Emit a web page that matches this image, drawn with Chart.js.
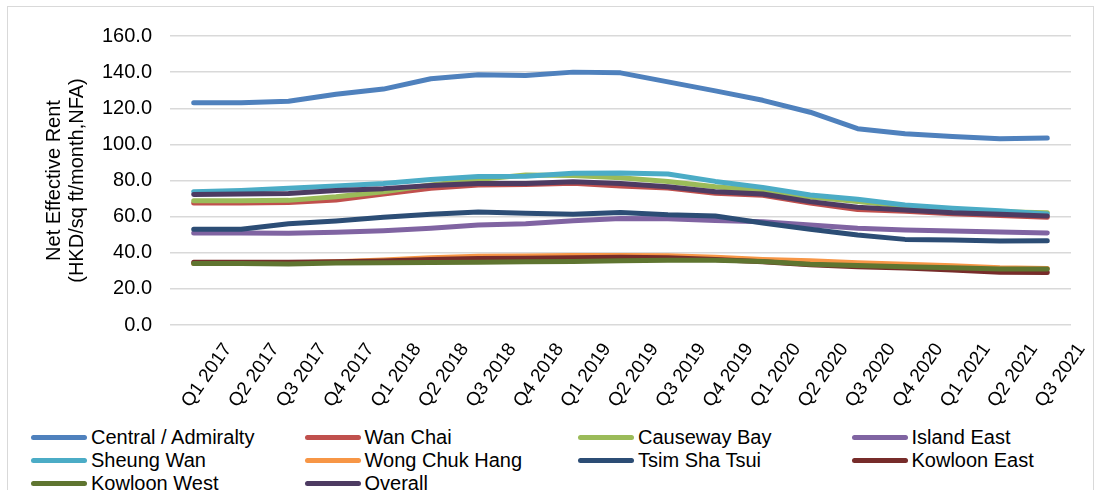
<!DOCTYPE html>
<html lang="en">
<head>
    <meta charset="UTF-8">
    <script src="https://cdn.jsdelivr.net/npm/chart.js@4.4.1/dist/chart.umd.min.js"></script>
    <title>Net Effective Rent</title>
    <style>
        body { margin: 0; background: #fff; font-family: "Liberation Sans", Arial, sans-serif; }
        #frame { position: absolute; left: 7px; top: 6px; width: 1085px; height: 500px; border: 1.5px solid #d9d9d9; border-bottom: none; }
        #chartBox { position: absolute; left: 0; top: 0; width: 1096px; height: 425px; }
        #legend { position: absolute; left: 31px; top: 426px; width: 1092px; }
        .item { position: absolute; display: flex; align-items: center; font-size: 20px; color: #000; white-space: nowrap; }
        .swatch { width: 56px; height: 5px; border-radius: 3px; margin-right: 4px; }
    </style>
</head>
<body>
    <div id="frame"></div>
    <div id="chartBox"><canvas id="chart"></canvas></div>
    <div id="legend"></div>
    <script>
        const categories = ['Q1 2017','Q2 2017','Q3 2017','Q4 2017','Q1 2018','Q2 2018','Q3 2018','Q4 2018',
            'Q1 2019','Q2 2019','Q3 2019','Q4 2019','Q1 2020','Q2 2020','Q3 2020','Q4 2020','Q1 2021','Q2 2021','Q3 2021'];

        const central     = [123.1,123.1,123.9,127.8,130.6,136.3,138.5,138.1,140.0,139.6,134.6,129.6,124.4,117.8,108.7,105.9,104.3,103.1,103.5];
        const wanChai     = [67.5,67.5,67.8,69.2,72.5,75.7,77.5,77.8,78.5,77.0,75.8,73.0,71.8,67.5,64.0,63.0,61.6,60.6,59.6];
        const causewayBay = [68.8,68.8,69.0,71.0,73.8,77.5,80.5,83.0,82.8,81.5,79.5,76.5,74.5,70.8,68.3,65.8,64.0,62.7,62.2];
        const islandEast  = [51.0,51.0,50.8,51.3,52.2,53.5,55.3,56.0,57.7,59.0,58.8,57.8,57.2,55.4,53.5,52.6,52.0,51.5,51.0];
        const sheungWan   = [73.8,74.5,75.7,77.0,78.4,80.5,82.2,82.3,84.0,84.2,83.6,79.5,76.2,72.0,69.6,66.4,64.6,63.3,61.5];
        const wongChukHang= [34.0,34.0,34.3,35.0,36.0,37.2,38.0,38.2,38.5,38.5,38.3,37.5,36.3,35.6,34.5,33.6,32.8,31.7,31.3];
        const tsimShaTsui = [53.0,53.0,56.0,57.6,59.6,61.3,62.6,61.8,61.3,62.3,61.0,60.3,56.5,53.0,49.8,47.4,47.0,46.5,46.7];
        const kowloonEast = [34.8,34.8,34.8,35.0,35.5,36.2,36.8,37.0,37.3,37.5,37.3,36.3,35.0,33.3,32.3,31.6,30.5,29.2,29.0];
        const kowloonWest = [34.0,34.0,33.8,34.3,34.5,34.6,34.8,35.0,35.2,35.6,35.8,35.8,35.1,33.6,32.9,32.3,31.7,31.0,31.0];
        const overall     = [72.3,72.5,72.8,74.4,75.5,77.2,78.3,78.3,79.3,78.4,76.6,73.8,72.5,68.3,65.2,63.7,62.2,61.3,60.4];

        const yTicks = [0, 20, 40, 60, 80, 100, 120, 140, 160];

        const series = [
            ['Central / Admiralty', central, '#4F81BD'],
            ['Wan Chai', wanChai, '#C0504D'],
            ['Causeway Bay', causewayBay, '#9BBB59'],
            ['Island East', islandEast, '#8064A2'],
            ['Sheung Wan', sheungWan, '#4BACC6'],
            ['Wong Chuk Hang', wongChukHang, '#F79646'],
            ['Tsim Sha Tsui', tsimShaTsui, '#2C4D75'],
            ['Kowloon East', kowloonEast, '#772C2A'],
            ['Kowloon West', kowloonWest, '#5F7530'],
            ['Overall', overall, '#4D3B62']
        ];

        Chart.defaults.font.family = '"Liberation Sans", Arial, sans-serif';
        Chart.defaults.color = '#000';

        const config = {
            type: 'line',
            data: {
                labels: categories,
                datasets: series.map((s, i) => ({
                    label: s[0],
                    data: s[1],
                    borderColor: s[2],
                    backgroundColor: s[2],
                    borderWidth: 5,
                    pointRadius: 0,
                    borderCapStyle: 'round',
                    borderJoinStyle: 'round',
                    tension: 0,
                    order: series.length - i   // later series drawn on top, like Excel
                }))
            },
            options: {
                responsive: true,
                maintainAspectRatio: false,
                animation: false,
                layout: { padding: { top: 36, right: 25, left: 0, bottom: 0 } },
                plugins: {
                    legend: { display: false },
                    tooltip: { enabled: false }
                },
                scales: {
                    x: {
                        offset: true,
                        grid: { display: false },
                        border: { display: false },
                        ticks: { font: { size: 19 }, minRotation: 55, maxRotation: 55, autoSkip: false, padding: 6, labelOffset: 34 },
                        afterFit: (scale) => { scale.height = 100; }
                    },
                    y: {
                        min: 0,
                        max: 160,
                        afterBuildTicks: (scale) => { scale.ticks = yTicks.map(v => ({ value: v })); },
                        grid: { color: '#d9d9d9', lineWidth: 1.5, drawTicks: false },
                        border: { display: false },
                        ticks: { font: { size: 20 }, padding: 18, callback: (v) => Number(v).toFixed(1) },
                        title: {
                            display: true,
                            text: ['Net Effective Rent', '(HKD/sq ft/month,NFA)'],
                            font: { size: 20, lineHeight: 1.15 },
                            padding: { top: 43, bottom: 0 }
                        },
                        afterFit: (scale) => { scale.width = 170; }
                    }
                }
            }
        };

        const chart = new Chart(document.getElementById('chart'), config);

        // legend in a 4 column grid like the original
        const legend = document.getElementById('legend');
        chart.data.datasets.forEach((ds, i) => {
            const item = document.createElement('div');
            item.className = 'item';
            item.style.left = (i % 4) * 273.5 + 'px';
            item.style.top = Math.floor(i / 4) * 23 + 'px';
            item.innerHTML = '<span class="swatch" style="background:' + ds.borderColor + '"></span>' + ds.label;
            legend.appendChild(item);
        });
    </script>
</body>
</html>
